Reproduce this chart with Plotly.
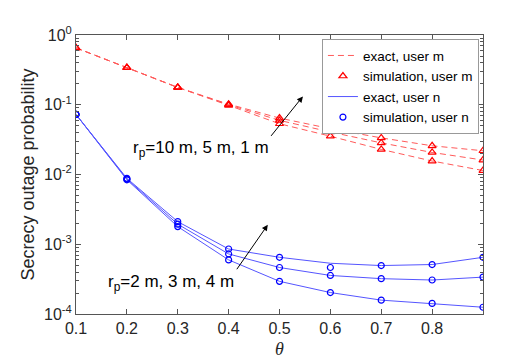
import plotly.graph_objects as go

# theta values (x axis)
theta = [0.1, 0.2, 0.3, 0.4, 0.5, 0.6, 0.7, 0.8, 0.9]

# user m, r_p = 10 m, 5 m, 1 m (exact and simulation coincide)
user_m_10 = [0.654, 0.34, 0.177, 0.098, 0.0534, 0.0354, 0.0229, 0.0156, 0.0114]
user_m_5 = [0.654, 0.34, 0.177, 0.100, 0.0597, 0.0407, 0.0284, 0.0207, 0.0161]
user_m_1 = [0.654, 0.34, 0.177, 0.102, 0.0644, 0.0454, 0.0335, 0.0258, 0.0219]

# user n, r_p = 2 m, 3 m, 4 m
user_n_2 = [0.0726, 0.0084, 0.00179, 0.000597, 0.000294, 0.000203, 0.000158, 0.000142, 0.000125]
user_n_3 = [0.0726, 0.0086, 0.00194, 0.000726, 0.000464, 0.000357, 0.000321, 0.000307, 0.000338]
user_n_4_exact = [0.0726, 0.0088, 0.00211, 0.000855, 0.00065, 0.000534, 0.000495, 0.000512, 0.00065]
user_n_4_sim = [0.0726, 0.0088, 0.00211, 0.000855, 0.00065, 0.000464, 0.000495, 0.000512, 0.00065]

x_ticks = [0.1, 0.2, 0.3, 0.4, 0.5, 0.6, 0.7, 0.8]
y_ticks = [1e-4, 1e-3, 1e-2, 1e-1, 1]
y_tick_text = ["10<sup>-4</sup>", "10<sup>-3</sup>", "10<sup>-2</sup>", "10<sup>-1</sup>", "10<sup>0</sup>"]

RED = "#ff0000"
RED_LINE = "#ff5a5a"
BLUE = "#0000ff"
BLUE_LINE = "#5555ff"
FONT = "Liberation Sans"

fig = go.Figure()

# exact curves, user m (dashed)
for i, ys in enumerate([user_m_10, user_m_5, user_m_1]):
    fig.add_scatter(
        x=theta, y=ys, mode="lines", name="exact, user m",
        line=dict(color=RED_LINE, width=1, dash="6px,4px"),
        showlegend=(i == 0), legendrank=1,
    )
# simulation, user m
for i, ys in enumerate([user_m_10, user_m_5, user_m_1]):
    fig.add_scatter(
        x=theta, y=ys, mode="markers", name="simulation, user m",
        marker=dict(symbol="triangle-up-open", size=7, color=RED, line=dict(width=1.2)),
        showlegend=(i == 0), legendrank=2,
    )
# exact curves, user n (solid)
for i, ys in enumerate([user_n_2, user_n_3, user_n_4_exact]):
    fig.add_scatter(
        x=theta, y=ys, mode="lines", name="exact, user n",
        line=dict(color=BLUE_LINE, width=1),
        showlegend=(i == 0), legendrank=3,
    )
# simulation, user n
for i, ys in enumerate([user_n_2, user_n_3, user_n_4_sim]):
    fig.add_scatter(
        x=theta, y=ys, mode="markers", name="simulation, user n",
        marker=dict(symbol="circle-open", size=6, color=BLUE, line=dict(width=1.2)),
        showlegend=(i == 0), legendrank=4,
    )

axis_style = dict(
    showline=True, linecolor="#555555", linewidth=1, mirror="ticks",
    ticks="inside", ticklen=5, tickcolor="#555555",
    showgrid=False, zeroline=False,
    tickfont=dict(family=FONT, size=16, color="#262626"),
)

fig.update_xaxes(
    range=[0.1, 0.9], tickvals=x_ticks,
    title=dict(text="<i>θ</i>", font=dict(family="Liberation Serif", size=18, color="#262626"), standoff=6),
    **axis_style,
)
fig.update_yaxes(
    type="log", range=[-4, 0], tickvals=y_ticks, ticktext=y_tick_text,
    minor=dict(ticks="inside", ticklen=3, tickcolor="#555555", dtick="D1", showgrid=False),
    title=dict(text="Secrecy outage probability", font=dict(family=FONT, size=18, color="#262626"), standoff=4),
    **axis_style,
)

# labels with arrows
fig.add_annotation(
    x=0.546, y=-0.88, text="", showarrow=True, arrowhead=2, arrowsize=1.2, arrowwidth=1,
    arrowcolor="#000000", ax=-33, ay=41, xref="x", yref="y",
)
fig.add_annotation(
    x=0.346, y=-1.63, text="r<sub>p</sub>=10 m, 5 m, 1 m", showarrow=False,
    font=dict(family=FONT, size=17, color="#000000"), xref="x", yref="y",
)
fig.add_annotation(
    x=0.477, y=-2.72, text="", showarrow=True, arrowhead=2, arrowsize=1.2, arrowwidth=1,
    arrowcolor="#000000", ax=-32, ay=46, xref="x", yref="y",
)
fig.add_annotation(
    x=0.287, y=-3.55, text="r<sub>p</sub>=2 m, 3 m, 4 m", showarrow=False,
    font=dict(family=FONT, size=17, color="#000000"), xref="x", yref="y",
)

fig.update_layout(
    width=526, height=360,
    margin=dict(l=68, r=51, t=27, b=51),
    paper_bgcolor="white", plot_bgcolor="white",
    font=dict(family=FONT, color="#262626"),
    legend=dict(
        x=0.99, y=0.985, xanchor="right", yanchor="top",
        bgcolor="white", bordercolor="#999999", borderwidth=1,
        font=dict(family=FONT, size=13.5, color="#000000"),
        tracegroupgap=0, itemwidth=30,
    ),
)

fig.write_html("out.html")
